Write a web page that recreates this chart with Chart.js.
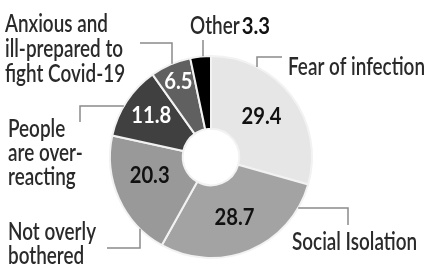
<!DOCTYPE html>
<html>
<head>
<meta charset="utf-8">
<script src="https://cdn.jsdelivr.net/npm/chart.js@4/dist/chart.umd.min.js"></script>
<style>
html,body{margin:0;padding:0;background:#fff;}
#wrap{width:428px;height:266px;position:relative;}
canvas{display:block;}
</style>
</head>
<body>
<div id="wrap"><canvas id="c" width="428" height="266"></canvas></div>
<script>
// ---- data ----
const categories = ['Fear of infection', 'Social Isolation', 'Not overly bothered', 'People are over-reacting', 'Anxious and ill-prepared to fight Covid-19', 'Other'];
const values = [29.4, 28.7, 20.3, 11.8, 6.5, 3.3];
const valueLabels = ['29.4', '28.7', '20.3', '11.8', '6.5', '3.3'];
const labelLines = [
  ['Fear of infection'],
  ['Social Isolation'],
  ['Not overly', 'bothered'],
  ['People', 'are over-', 'reacting'],
  ['Anxious and', 'ill-prepared to', 'fight Covid-19'],
  ['Other']
];

// ---- styling ----
const sliceColors = ['#e6e6e6', '#a3a3a3', '#999999', '#404040', '#606060', '#000000'];
const valueColors = ['#111', '#111', '#111', '#fff', '#fff', '#111'];
const LABEL_FONT = '"Lato", "Open Sans", sans-serif';

// label placement (annotation styling): left x, first baseline, line height
const labelPlace = [
  {x: 288, y: 75, lh: 25},
  {x: 292, y: 250, lh: 25},
  {x: 8, y: 240, lh: 24},
  {x: 8, y: 137, lh: 24},
  {x: 5, y: 32, lh: 25},
  {x: 190, y: 34, lh: 25}
];
// leader lines: elbow, end near text, and direction to the ring
const leaders = [
  {ex: 257, ey: 57, tx: 282, ty: 57, dir: 'v'},
  {ex: 348, ey: 208, tx: 348, ty: 225, dir: 'h'},
  {ex: 140, ey: 248, tx: 107, ty: 248, dir: 'v'},
  {ex: 80, ey: 106, tx: 80, ty: 122, dir: 'h'},
  {ex: 172, ey: 43, tx: 140, ty: 43, dir: 'v'},
  {ex: 203, ey: 40, tx: 203, ty: 40, dir: 'v'}
];
// value label placement within slice: radial fraction, angle shift (deg)
const valuePlace = [
  {f: 0.51, a: -2.4},
  {f: 0.49, a: 1},
  {f: 0.49, a: 8},
  {f: 0.62, a: 2},
  {f: 0.75, a: 0.4},
  null
];

function drawScaled(ctx, text, x, y, sx) {
  ctx.save();
  ctx.translate(x, y);
  ctx.scale(sx, 1);
  ctx.fillText(text, 0, 0);
  ctx.restore();
}

const annotate = {
  id: 'annotate',
  afterDatasetsDraw(chart) {
    const ctx = chart.ctx;
    const meta = chart.getDatasetMeta(0);
    const arc0 = meta.data[0];
    const cx = arc0.x, cy = arc0.y, R = arc0.outerRadius, r0 = arc0.innerRadius;

    // leader lines
    ctx.save();
    ctx.strokeStyle = '#8a8a8a';
    ctx.lineWidth = 1.5;
    leaders.forEach(l => {
      let sx, sy;
      if (l.dir === 'v') {
        const dx = l.ex - cx;
        const h = Math.sqrt(Math.max(R * R - dx * dx, 0));
        sx = l.ex;
        sy = l.ey < cy ? cy - h : cy + h;
      } else {
        const dy = l.ey - cy;
        const w = Math.sqrt(Math.max(R * R - dy * dy, 0));
        sy = l.ey;
        sx = l.ex < cx ? cx - w : cx + w;
      }
      ctx.beginPath();
      ctx.moveTo(sx, sy);
      ctx.lineTo(l.ex, l.ey);
      ctx.lineTo(l.tx, l.ty);
      ctx.stroke();
    });
    ctx.restore();

    // outside labels
    ctx.save();
    ctx.textBaseline = 'alphabetic';
    ctx.textAlign = 'left';
    ctx.fillStyle = '#2a2a2a';
    ctx.font = '600 24px ' + LABEL_FONT;
    const labelScale = 137 / ctx.measureText('Fear of infection').width;
    labelLines.forEach((lines, i) => {
      const p = labelPlace[i];
      lines.forEach((t, k) => drawScaled(ctx, t, p.x, p.y + k * p.lh, labelScale));
    });
    // "Other" value next to its label
    const otherW = ctx.measureText(labelLines[5][0]).width * labelScale;
    ctx.font = 'bold 22px ' + LABEL_FONT;
    const valueScale = 40 / ctx.measureText('29.4').width;
    ctx.fillStyle = '#111';
    drawScaled(ctx, valueLabels[5], labelPlace[5].x + otherW + 2, labelPlace[5].y, valueScale);

    // values inside slices
    ctx.textAlign = 'center';
    ctx.textBaseline = 'middle';
    meta.data.forEach((arc, i) => {
      const vp = valuePlace[i];
      if (!vp) return;
      const mid = (arc.startAngle + arc.endAngle) / 2 + vp.a * Math.PI / 180;
      const rr = r0 + (R - r0) * vp.f;
      const x = cx + rr * Math.cos(mid);
      const y = cy + rr * Math.sin(mid);
      ctx.fillStyle = valueColors[i];
      ctx.save();
      ctx.translate(x, y + 1);
      ctx.scale(valueScale, 1);
      ctx.fillText(valueLabels[i], 0, 0);
      ctx.restore();
    });
    ctx.restore();
  }
};

new Chart(document.getElementById('c'), {
  type: 'doughnut',
  data: {
    labels: categories,
    datasets: [{
      data: values,
      backgroundColor: sliceColors,
      borderColor: '#f2f2f2',
      borderWidth: 2
    }]
  },
  options: {
    responsive: false,
    devicePixelRatio: 1,
    animation: false,
    cutout: '28%',
    layout: {padding: {left: 109, right: 115, top: 55, bottom: 7}},
    plugins: {legend: {display: false}, tooltip: {enabled: false}}
  },
  plugins: [annotate]
});
</script>
</body>
</html>
